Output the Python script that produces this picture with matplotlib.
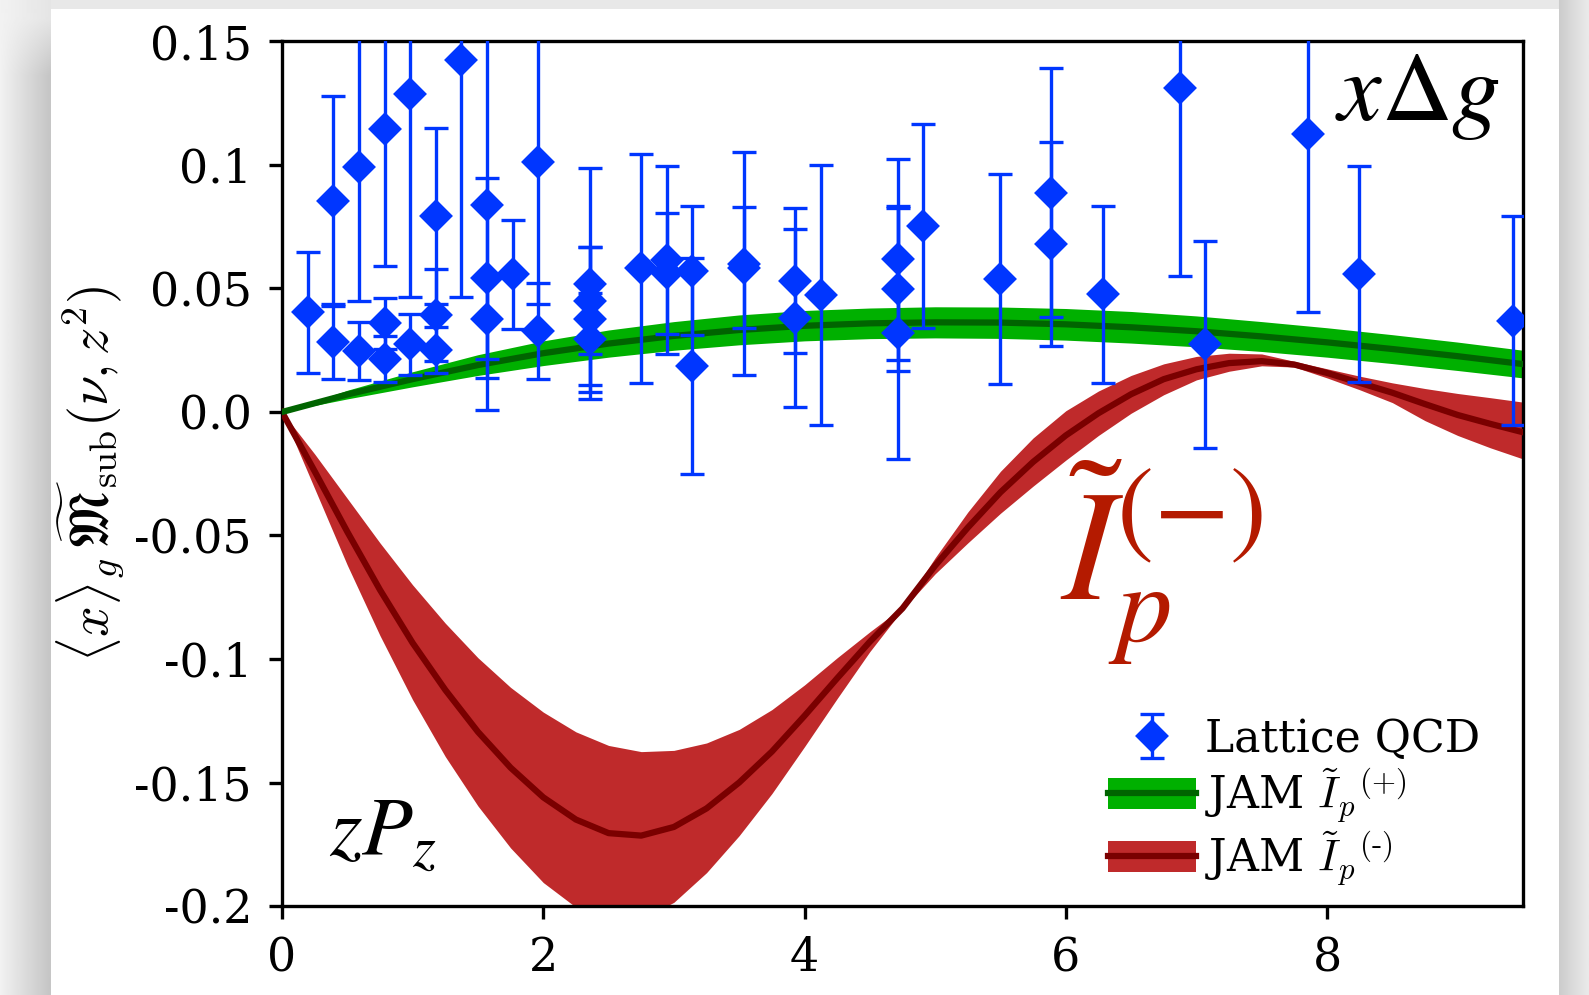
import numpy as np
import matplotlib
matplotlib.use("Agg")
import matplotlib.pyplot as plt
from matplotlib.patches import Rectangle

plt.rcParams['font.family'] = 'DejaVu Serif'
plt.rcParams['mathtext.fontset'] = 'cm'

# lattice QCD points: nu = z*P_z, matrix element, error
lat_nu = [0.196,
          0.393, 0.393,
          0.589, 0.589,
          0.785, 0.785, 0.785,
          0.982, 0.982,
          1.178, 1.178, 1.178,
          1.374,
          1.571, 1.571, 1.571,
          1.767,
          1.963, 1.963,
          2.356, 2.356, 2.356, 2.356,
          2.749,
          2.945, 2.945,
          3.142, 3.142,
          3.534, 3.534,
          3.927, 3.927,
          4.123,
          4.712, 4.712, 4.712,
          4.909,
          5.498,
          5.890, 5.890,
          6.283,
          6.872,
          7.069,
          7.854,
          8.247,
          9.425]
lat_val = [0.0403,
           0.0853, 0.0284,
           0.0992, 0.0247,
           0.1146, 0.0359, 0.0214,
           0.1289, 0.0274,
           0.0793, 0.0392, 0.0251,
           0.1427,
           0.0837, 0.0543, 0.0376,
           0.0557,
           0.1011, 0.0328,
           0.0520, 0.0450, 0.0375, 0.0295,
           0.0581,
           0.0615, 0.0561,
           0.0572, 0.0186,
           0.0601, 0.0585,
           0.0531, 0.0379,
           0.0473,
           0.0618, 0.0496, 0.0321,
           0.0753,
           0.0537,
           0.0888, 0.0679,
           0.0476,
           0.1310,
           0.0274,
           0.1127,
           0.0558,
           0.0369]
lat_err = [0.0245,
           0.0425, 0.0152,
           0.0543, 0.0117,
           0.0554, 0.0103, 0.0093,
           0.0823, 0.0124,
           0.0355, 0.0186, 0.0094,
           0.0961,
           0.0830, 0.0405, 0.0162,
           0.0219,
           0.0572, 0.0195,
           0.0468, 0.0216, 0.0293, 0.0186,
           0.0463,
           0.0381, 0.0245,
           0.0262, 0.0437,
           0.0450, 0.0245,
           0.0293, 0.0360,
           0.0525,
           0.0408, 0.0328, 0.0512,
           0.0413,
           0.0425,
           0.0504, 0.0413,
           0.0358,
           0.0759,
           0.0418,
           0.0721,
           0.0438,
           0.0423]

# JAM I_p^(+) band
nu_plus = [0.0, 0.5, 1.0, 1.5, 2.0, 2.5, 3.0, 3.5, 4.0, 4.5,
           5.0, 5.5, 6.0, 6.5, 7.0, 7.5, 8.0, 8.5, 9.0, 9.5]
plus_mid = [0.0, 0.0071, 0.0133, 0.0190, 0.0238, 0.0277, 0.0308, 0.0332, 0.0349, 0.0359,
            0.0363, 0.0362, 0.0355, 0.0343, 0.0327, 0.0306, 0.0282, 0.0255, 0.0226, 0.0194]
plus_hi = [0.0, 0.0088, 0.0163, 0.0232, 0.0288, 0.0332, 0.0366, 0.0393, 0.0411, 0.0421,
           0.0426, 0.0425, 0.0419, 0.0407, 0.0389, 0.0366, 0.0341, 0.0313, 0.0283, 0.0250]
plus_lo = [0.0, 0.0053, 0.0102, 0.0148, 0.0188, 0.0222, 0.0250, 0.0272, 0.0288, 0.0297,
           0.0300, 0.0298, 0.0291, 0.0279, 0.0264, 0.0245, 0.0222, 0.0196, 0.0168, 0.0138]

# JAM I_p^(-) band
nu_minus = [0.0, 0.25, 0.5, 0.75, 1.0, 1.25, 1.5, 1.75, 2.0, 2.25,
            2.5, 2.75, 3.0, 3.25, 3.5, 3.75, 4.0, 4.25, 4.5, 4.75,
            5.0, 5.25, 5.5, 5.75, 6.0, 6.25, 6.5, 6.75, 7.0, 7.25,
            7.5, 7.75, 8.0, 8.25, 8.5, 8.75, 9.0, 9.25, 9.5]
minus_mid = [0.0, -0.0240, -0.0485, -0.0720, -0.0935, -0.1125, -0.1295, -0.1440, -0.1560, -0.1650,
             -0.1705, -0.1715, -0.1680, -0.1605, -0.1500, -0.1375, -0.1230, -0.1078, -0.0930, -0.0795,
             -0.0622, -0.0468, -0.0325, -0.0202, -0.0095, -0.0005, 0.0072, 0.0133, 0.0173, 0.0198,
             0.0206, 0.0192, 0.0158, 0.0118, 0.0078, 0.0032, -0.0012, -0.0048, -0.0082]
minus_hi = [0.0, -0.0170, -0.0350, -0.0530, -0.0700, -0.0855, -0.0995, -0.1115, -0.1215, -0.1295,
            -0.1350, -0.1375, -0.1370, -0.1340, -0.1285, -0.1205, -0.1105, -0.0995, -0.0890, -0.0790,
            -0.0590, -0.0405, -0.0240, -0.0105, 0.0005, 0.0085, 0.0148, 0.0195, 0.0225, 0.0238,
            0.0235, 0.0205, 0.0175, 0.0145, 0.0118, 0.0095, 0.0075, 0.0058, 0.0040]
minus_lo = [0.0, -0.0310, -0.0620, -0.0905, -0.1165, -0.1395, -0.1595, -0.1765, -0.1905, -0.2005,
            -0.2060, -0.2055, -0.1985, -0.1865, -0.1715, -0.1545, -0.1355, -0.1160, -0.0970, -0.0800,
            -0.0655, -0.0530, -0.0410, -0.0300, -0.0195, -0.0095, -0.0005, 0.0070, 0.0130, 0.0165,
            0.0187, 0.0182, 0.0138, 0.0090, 0.0038, -0.0035, -0.0095, -0.0145, -0.0190]

y_ticks = [-0.2, -0.15, -0.1, -0.05, 0.0, 0.05, 0.1, 0.15]
y_ticklabels = ['-0.2', '-0.15', '-0.1', '-0.05', '0.0', '0.05', '0.1', '0.15']
x_ticks = [0, 2, 4, 6, 8]

W, H = 1589, 995
fig = plt.figure(figsize=(W / 300, H / 300), dpi=300)

# grey page with a soft shadow round the white card
bg = fig.add_axes([0, 0, 1, 1], zorder=-10)
bg.axis('off')
cols = np.arange(W)
rows = np.arange(H)[:, None]
shade = np.full((H, W), 0.91)
left = cols < 51
fade = np.clip((rows + 5) / 80.0, 0.3, 1.0)
shade[:, left] = 0.95 - 0.18 * (cols[left] / 51.0) * fade
right = cols >= 1559
shade[:, right] = 0.80 + 0.12 * (cols[right] - 1559) / 30.0
bg.imshow(shade, cmap='gray', vmin=0, vmax=1, extent=(0, 1, 0, 1), aspect='auto',
          interpolation='bilinear')
bg.add_patch(Rectangle((51 / W, 0), (1559 - 51) / W, 1 - 9 / H,
                       transform=bg.transAxes, color='white', lw=0))
bg.set_xlim(0, 1)
bg.set_ylim(0, 1)

ax = fig.add_axes([282 / W, 1 - 906 / H, (1523 - 282) / W, (906 - 41.5) / H])

r_fill = ax.fill_between(nu_minus, minus_lo, minus_hi, color='#bf2a2b', lw=0, zorder=2)
r_line, = ax.plot(nu_minus, minus_mid, color='#7a0000', lw=1.5, zorder=3)
g_fill = ax.fill_between(nu_plus, plus_lo, plus_hi, color='#00b000', lw=0, zorder=2)
g_line, = ax.plot(nu_plus, plus_mid, color='#006400', lw=1.5, zorder=3)

eb = ax.errorbar(lat_nu, lat_val, yerr=lat_err, fmt='D', color='#0036ff', ms=4.6,
                 elinewidth=0.8, capsize=2.9, capthick=0.8, zorder=5)

ax.set_xlim(0, 9.5)
ax.set_ylim(-0.2, 0.15)
ax.set_xticks(x_ticks)
ax.set_yticks(y_ticks)
ax.set_yticklabels(y_ticklabels)
ax.tick_params(direction='out', length=3.2, width=0.8, pad=4, labelsize=11)
ax.set_ylabel(r'$\langle x \rangle_g\,\widetilde{\mathfrak{M}}_{\rm sub}(\nu,z^2)$',
              fontsize=13, labelpad=2)

ax.text(0.981, 0.909, r'$x\Delta g$', transform=ax.transAxes, ha='right',
        va='baseline', fontsize=23.5, math_fontfamily='stix')
ax.text(0.038, 0.058, r'$zP_z$', transform=ax.transAxes, ha='left',
        va='baseline', fontsize=20, math_fontfamily='stix')
ax.text(0.627, 0.354, r'$\tilde{I}_p^{(-)}$', transform=ax.transAxes, ha='left',
        va='baseline', fontsize=38, color='#b41a00', math_fontfamily='stix')

ax.legend([eb, (g_fill, g_line), (r_fill, r_line)],
          ['Lattice QCD', r'JAM ${\tilde{I}_p}^{(+)}$', r'JAM ${\tilde{I}_p}^{\text{(-)}}$'],
          loc='lower right', bbox_to_anchor=(0.987, -0.009), frameon=False,
          fontsize=10.6, handletextpad=0.2, labelspacing=0.12, borderaxespad=0.2)

fig.savefig('out.png', dpi=300)
